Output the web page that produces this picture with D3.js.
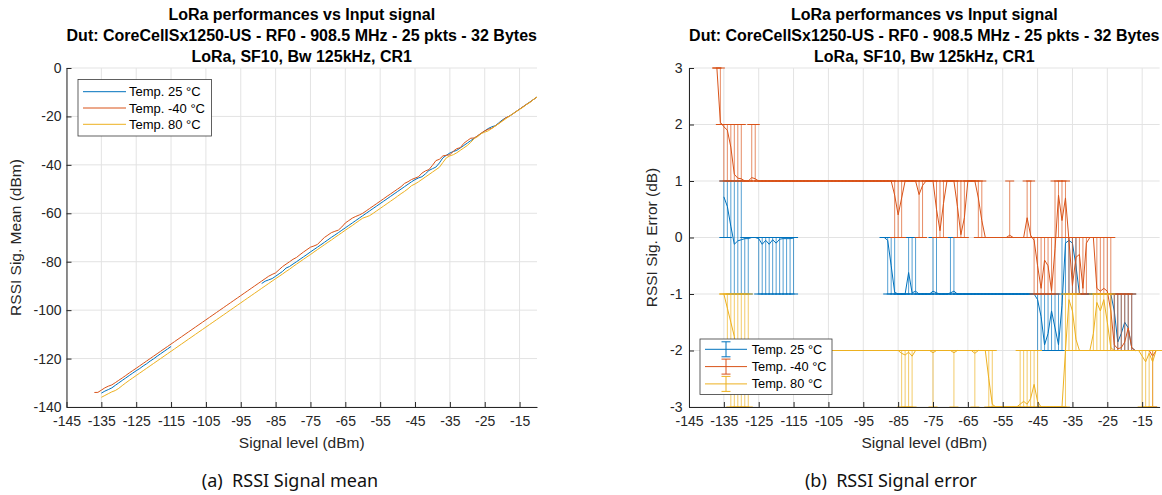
<!DOCTYPE html>
<html>
<head>
<meta charset="utf-8">
<script src="https://cdn.jsdelivr.net/npm/d3@7"></script>
<style>
  body { margin: 0; background: #fff; }
  text { font-family: "Liberation Sans", Arial, Helvetica, sans-serif; }
  .caption { font-family: "Noto Sans", "Open Sans", sans-serif; white-space: pre; }
</style>
</head>
<body>
<svg id="fig" width="1162" height="495"></svg>
<script>
// sweep of input levels (dBm), one step per dB
const levelsMinus40 = d3.range(-137, -9);
const levels25 = d3.range(-135, -9);
const levels80 = d3.range(-135, -9);

// RSSI error (dB) = measured RSSI mean - input level, read from plot (b)
// -40 °C : -137 .. -10
const errMinus40 = [
  3, 2.04, 1.96, 1.9, 1.6, 1.12, 1.05, 1.04, 1, 1,
  1.06, 1.04, 1, 1, 1, 1, 1, 1, 1, 1,
  1, 1, 1, 1, 1, 1, 1, 1, 1, 1,
  1, 1, 1, 1, 1, 1, 1, 1, 1, 1,
  1, 1, 1, 1, 1, 1, 1, 1, 1, 1,
  1, 0.75, 0.4, 0.7, 1, 1, 1, 1, 0.76, 0.92,
  1, 1, 1, 0.5, 0.12, 0.6, 1, 1, 1, 0.55,
  0.05, 0.35, 1, 1, 1, 0.7, 0.3, 0, 0, 0,
  0, 0, 0, 0, 0.04, 0, 0, 0, 0, 0.35,
  0.04, -0.05, -0.5, -0.9, -0.4, -0.5, -0.95, -0.2, 0.75, 0.3,
  0.7, -0.05, -0.85, -0.35, -0.3, -0.9, -0.1, 0, 0, -0.9,
  -0.95, -0.9, -0.95, -1.3, -1.9, -1.97, -1.95, -1.85, -1.6, -1.95,
  -2, -2, -2, -2, -2, -2.1, -2, -2
];
const errLoMinus40 = [
  3, 2, 1, 1, 1, 1, 1, 1, 1, 1,
  1, 1, 1, 1, 1, 1, 1, 1, 1, 1,
  1, 1, 1, 1, 1, 1, 1, 1, 1, 1,
  1, 1, 1, 1, 1, 1, 1, 1, 1, 1,
  1, 1, 1, 1, 1, 1, 1, 1, 1, 1,
  1, 0, 0, 0, 1, 1, 1, 1, 0, 0,
  1, 1, 1, 0, 0, 0, 1, 1, 1, 0,
  0, 0, 1, 1, 1, 0, 0, 0, 0, 0,
  0, 0, 0, 0, 0, 0, 0, 0, 0, 0,
  0, -1, -1, -1, -1, -1, -1, -1, 0, 0,
  0, -1, -1, -1, -1, -1, -1, 0, 0, -1,
  -1, -1, -1, -2, -2, -2, -2, -2, -2, -2,
  -2, -2, -2, -2, -2, -3, -2, -2
];
const errHiMinus40 = [
  3, 3, 2, 2, 2, 2, 2, 2, 1, 1,
  2, 2, 1, 1, 1, 1, 1, 1, 1, 1,
  1, 1, 1, 1, 1, 1, 1, 1, 1, 1,
  1, 1, 1, 1, 1, 1, 1, 1, 1, 1,
  1, 1, 1, 1, 1, 1, 1, 1, 1, 1,
  1, 1, 1, 1, 1, 1, 1, 1, 1, 1,
  1, 1, 1, 1, 1, 1, 1, 1, 1, 1,
  1, 1, 1, 1, 1, 1, 1, 0, 0, 0,
  0, 0, 0, 0, 1, 0, 0, 0, 0, 1,
  1, 0, 0, 0, 0, 0, 0, 1, 1, 1,
  1, 0, 0, 0, 0, 0, 0, 0, 0, 0,
  0, 0, 0, 0, -1, -1, -1, -1, -1, -1,
  -2, -2, -2, -2, -2, -2, -2, -2
];

// 25 °C : -135 .. -10 (no points between -114 and -90)
const err25 = [
  0.72, 0.55, 0.2, -0.12, -0.06, -0.04, -0.02, -0.02, 0, 0,
  -0.02, -0.12, -0.05, -0.12, -0.04, -0.1, -0.03, -0.02, -0.02, -0.02,
  -0.01, null, null, null, null, null, null, null, null, null,
  null, null, null, null, null, null, null, null, null, null,
  null, null, null, null, null, null, 0, -0.05, -0.5, -0.97,
  -1, -1, -1, -0.62, -0.98, -0.95, -1, -1, -1, -1,
  -0.95, -0.98, -1, -1, -1, -0.98, -0.95, -1, -1, -1,
  -1, -1, -1, -1, -1, -1, -1, -1, -1, -1,
  -1, -1, -1, -1, -1, -1, -1, -1, -1, -1,
  -1.1, -1.4, -1.9, -1.7, -1.3, -1.6, -1.9, -1.2, -0.1, -0.05,
  -0.1, -0.5, -1, -1, -1, -1, -1, -1, -1, -1,
  -1, -1, -1.3, -1.85, -1.7, -1.5, -1.6, -1.95, -2, -2,
  -2, -2, -2, -2, -2, -2
];
const errLo25 = [
  0, 0, -1, -1, -1, -1, -1, -1, 0, 0,
  -1, -1, -1, -1, -1, -1, -1, -1, -1, -1,
  -1, null, null, null, null, null, null, null, null, null,
  null, null, null, null, null, null, null, null, null, null,
  null, null, null, null, null, null, 0, -1, -1, -1,
  -1, -1, -1, -1, -1, -1, -1, -1, -1, -1,
  -1, -1, -1, -1, -1, -1, -1, -1, -1, -1,
  -1, -1, -1, -1, -1, -1, -1, -1, -1, -1,
  -1, -1, -1, -1, -1, -1, -1, -1, -1, -1,
  -2, -2, -2, -2, -2, -2, -2, -2, -1, -1,
  -1, -1, -1, -1, -1, -1, -1, -1, -1, -1,
  -1, -1, -2, -2, -2, -2, -2, -2, -2, -2,
  -2, -2, -2, -2, -2, -2
];
const errHi25 = [
  1, 1, 1, 1, 1, 1, 0, 0, 0, 0,
  0, 0, 0, 0, 0, 0, 0, 0, 0, 0,
  0, null, null, null, null, null, null, null, null, null,
  null, null, null, null, null, null, null, null, null, null,
  null, null, null, null, null, null, 0, 0, 0, 0,
  -1, -1, -1, 0, 0, 0, -1, -1, -1, -1,
  0, 0, -1, -1, -1, 0, 0, -1, -1, -1,
  -1, -1, -1, -1, -1, -1, -1, -1, -1, -1,
  -1, -1, -1, -1, -1, -1, -1, -1, -1, -1,
  -1, -1, -1, -1, -1, -1, -1, 0, 0, 0,
  0, 0, -1, -1, -1, -1, -1, -1, -1, -1,
  -1, -1, -1, -1, -1, -1, -1, -1, -2, -2,
  -2, -2, -2, -2, -2, -2
];

// 80 °C : -135 .. -10
const err80 = [
  -1, -1.25, -1.5, -1.75, -2.2, -2.3, -2.15, -2.05, -2, -2,
  -2, -2, -2, -2, -2, -2, -2, -2, -2, -2,
  -2, -2, -2, -2, -2, -2, -2, -2, -2, -2,
  -2, -2, -2, -2, -2, -2, -2, -2, -2, -2,
  -2, -2, -2, -2, -2, -2, -2, -2, -2, -2,
  -2, -2.05, -2.08, -2.03, -2.1, -2, -2, -2, -2, -2,
  -2.04, -2, -2, -2, -2, -2, -2.04, -2, -2, -2,
  -2, -2, -2.05, -2, -2, -2, -2.5, -2.95, -3, -3,
  -3, -3, -3, -3, -3, -2.95, -2.9, -2.95, -2.85, -2.6,
  -2.9, -3, -3, -3, -3, -3, -3, -3, -2, -1.1,
  -1.3, -1.8, -2, -2, -2, -2, -1.7, -1.15, -1.3, -1.1,
  -1.5, -1.95, -2, -2, -2, -2, -2, -2, -2, -2,
  -2.1, -2.2, -2.05, -2.2, -2, -2
];
const errLo80 = [
  -1, -2, -3, -3, -3, -3, -3, -3, -2, -2,
  -2, -2, -2, -2, -2, -2, -2, -2, -2, -2,
  -2, -2, -2, -2, -2, -2, -2, -2, -2, -2,
  -2, -2, -2, -2, -2, -2, -2, -2, -2, -2,
  -2, -2, -2, -2, -2, -2, -2, -2, -2, -2,
  -2, -3, -3, -3, -3, -2, -2, -2, -2, -2,
  -3, -2, -2, -2, -2, -2, -3, -2, -2, -2,
  -2, -2, -3, -2, -2, -2, -3, -3, -3, -3,
  -3, -3, -3, -3, -3, -3, -3, -3, -3, -3,
  -3, -3, -3, -3, -3, -3, -3, -3, -3, -2,
  -2, -2, -2, -2, -2, -2, -2, -2, -2, -2,
  -2, -2, -2, -2, -2, -2, -2, -2, -2, -2,
  -3, -3, -3, -3, -2, -2
];
const errHi80 = [
  -1, -1, -1, -1, -1, -1, -1, -1, -2, -2,
  -2, -2, -2, -2, -2, -2, -2, -2, -2, -2,
  -2, -2, -2, -2, -2, -2, -2, -2, -2, -2,
  -2, -2, -2, -2, -2, -2, -2, -2, -2, -2,
  -2, -2, -2, -2, -2, -2, -2, -2, -2, -2,
  -2, -2, -2, -2, -2, -2, -2, -2, -2, -2,
  -2, -2, -2, -2, -2, -2, -2, -2, -2, -2,
  -2, -2, -2, -2, -2, -2, -2, -2, -3, -3,
  -3, -3, -3, -3, -3, -2, -2, -2, -2, -2,
  -2, -3, -3, -3, -3, -3, -3, -3, -1, -1,
  -1, -1, -2, -2, -2, -2, -1, -1, -1, -1,
  -1, -1, -2, -2, -2, -2, -2, -2, -2, -2,
  -2, -2, -2, -2, -2, -2
];

const xTicks = [-145, -135, -125, -115, -105, -95, -85, -75, -65, -55, -45, -35, -25, -15];
const meanTicks = [-140, -120, -100, -80, -60, -40, -20, 0];
const errTicks = [-3, -2, -1, 0, 1, 2, 3];
const titleLines = [
  'LoRa performances vs Input signal',
  'Dut: CoreCellSx1250-US - RF0 - 908.5 MHz - 25 pkts - 32 Bytes',
  'LoRa, SF10, Bw 125kHz, CR1'
];

const series = [
  { name: 'Temp. 25 °C', color: '#0072BD', levels: levels25, err: err25, lo: errLo25, hi: errHi25 },
  { name: 'Temp. -40 °C', color: '#D95319', levels: levelsMinus40, err: errMinus40, lo: errLoMinus40, hi: errHiMinus40 },
  { name: 'Temp. 80 °C', color: '#EDB120', levels: levels80, err: err80, lo: errLo80, hi: errHi80 }
];
series.forEach(s => {
  s.points = s.levels.map((x, i) => ({ x: x, e: s.err[i], lo: s.lo[i], hi: s.hi[i] }));
});

const svg = d3.select('#fig');
svg.append('rect').attr('width', 1162).attr('height', 495).attr('fill', '#fff');

const axisColor = '#262626';
const gridColor = '#e3e3e3';

function drawFrame(x, y, yTicks, yPad) {
  const g = svg.append('g');
  const [y0, y1] = y.range();
  const [x0, x1] = x.range();
  // grid
  g.append('g').selectAll('line').data(xTicks).join('line')
    .attr('x1', d => x(d)).attr('x2', d => x(d))
    .attr('y1', y0).attr('y2', y1)
    .attr('stroke', gridColor).attr('stroke-width', 1);
  g.append('g').selectAll('line').data(yTicks).join('line')
    .attr('x1', x0).attr('x2', x1)
    .attr('y1', d => y(d)).attr('y2', d => y(d))
    .attr('stroke', gridColor).attr('stroke-width', 1);
  return g;
}

function drawAxes(x, y, yTicks, yPad) {
  const g = svg.append('g');
  const gx = g.append('g')
    .attr('transform', `translate(0,${y.range()[0]})`)
    .call(d3.axisBottom(x).tickValues(xTicks).tickSize(-5).tickSizeOuter(0)
      .tickPadding(9).tickFormat(d => String(d)));
  const gy = g.append('g')
    .attr('transform', `translate(${x.range()[0]},0)`)
    .call(d3.axisLeft(y).tickValues(yTicks).tickSize(-5).tickSizeOuter(0)
      .tickPadding(yPad).tickFormat(d => String(d)));
  [gx, gy].forEach(a => {
    a.attr('font-family', null).attr('font-size', null);
    a.select('.domain').attr('stroke', axisColor);
    a.selectAll('.tick line').attr('stroke', axisColor);
    a.selectAll('.tick text').attr('fill', axisColor).style('font-size', '14px');
  });
}

function drawTitle(cx) {
  titleLines.forEach((t, i) => {
    svg.append('text')
      .attr('x', cx).attr('y', 20 + i * 21)
      .attr('text-anchor', 'middle')
      .style('font-size', '16px').style('font-weight', 'bold')
      .attr('fill', '#000')
      .text(t);
  });
}

function drawLabels(cx, cy, xLab, yX, yLab) {
  svg.append('text')
    .attr('x', cx).attr('y', 447.5)
    .attr('text-anchor', 'middle').attr('fill', axisColor)
    .style('font-size', '15.5px')
    .text(xLab);
  svg.append('text')
    .attr('transform', `translate(${yX},${cy}) rotate(-90)`)
    .attr('text-anchor', 'middle').attr('fill', axisColor)
    .style('font-size', '15.5px')
    .text(yLab);
}

// ---------------- (a) RSSI signal mean ----------------
const xA = d3.scaleLinear().domain([-145, -10]).range([66.5, 537]);
const yA = d3.scaleLinear().domain([-140, 0]).range([407, 68]);

drawFrame(xA, yA, meanTicks);

const lineA = d3.line()
  .defined(d => d.e != null)
  .x(d => xA(d.x))
  .y(d => yA(d.x + d.e));

svg.append('g').selectAll('path').data(series).join('path')
  .attr('d', s => lineA(s.points))
  .attr('fill', 'none')
  .attr('stroke', s => s.color)
  .attr('stroke-width', 1);

drawAxes(xA, yA, meanTicks, 5);
drawTitle((66.5 + 537) / 2);
drawLabels((66.5 + 537) / 2, (68 + 407) / 2, 'Signal level (dBm)', 21, 'RSSI Sig. Mean (dBm)');

// legend (a)
const legA = svg.append('g');
legA.append('rect').attr('x', 78).attr('y', 79.5).attr('width', 133.5).attr('height', 56.5)
  .attr('fill', '#fff').attr('stroke', '#3a3a3a').attr('stroke-width', 0.8);
series.forEach((s, i) => {
  const ly = 91.7 + i * 16.3;
  legA.append('line').attr('x1', 83).attr('x2', 126).attr('y1', ly).attr('y2', ly)
    .attr('stroke', s.color).attr('stroke-width', 1);
  legA.append('text').attr('x', 129).attr('y', ly).attr('dy', '0.35em')
    .attr('fill', '#000').style('font-size', '13px').text(s.name);
});

// ---------------- (b) RSSI signal error ----------------
const xB = d3.scaleLinear().domain([-145, -10]).range([689, 1159.6]);
const yB = d3.scaleLinear().domain([-3, 3]).range([407, 68]);
const cap = 4.5;

drawFrame(xB, yB, errTicks);

const lineB = d3.line()
  .defined(d => d.e != null)
  .x(d => xB(d.x))
  .y(d => yB(d.e));

series.forEach(s => {
  const g = svg.append('g');
  const pts = s.points.filter(d => d.e != null);
  g.selectAll('line.bar').data(pts.filter(d => d.lo !== d.hi)).join('line')
    .attr('class', 'bar')
    .attr('x1', d => xB(d.x)).attr('x2', d => xB(d.x))
    .attr('y1', d => yB(d.lo)).attr('y2', d => yB(d.hi))
    .attr('stroke', s.color).attr('stroke-width', 0.9).attr('stroke-opacity', 0.75);
  g.selectAll('line.capLo').data(pts).join('line')
    .attr('class', 'capLo')
    .attr('x1', d => xB(d.x) - cap).attr('x2', d => xB(d.x) + cap)
    .attr('y1', d => yB(d.lo)).attr('y2', d => yB(d.lo))
    .attr('stroke', s.color).attr('stroke-width', 1);
  g.selectAll('line.capHi').data(pts).join('line')
    .attr('class', 'capHi')
    .attr('x1', d => xB(d.x) - cap).attr('x2', d => xB(d.x) + cap)
    .attr('y1', d => yB(d.hi)).attr('y2', d => yB(d.hi))
    .attr('stroke', s.color).attr('stroke-width', 1);
  g.append('path')
    .attr('d', lineB(s.points))
    .attr('fill', 'none')
    .attr('stroke', s.color)
    .attr('stroke-width', 1);
});

drawAxes(xB, yB, errTicks, 6.5);
drawTitle((689 + 1159.6) / 2);
drawLabels((689 + 1159.6) / 2, (68 + 407) / 2, 'Signal level (dBm)', 657, 'RSSI Sig. Error (dB)');

// legend (b)
const legB = svg.append('g');
legB.append('rect').attr('x', 700).attr('y', 339).attr('width', 132).attr('height', 55.5)
  .attr('fill', '#fff').attr('stroke', '#3a3a3a').attr('stroke-width', 0.8);
series.forEach((s, i) => {
  const ly = 349.3 + i * 17.3;
  legB.append('line').attr('x1', 705).attr('x2', 747).attr('y1', ly).attr('y2', ly)
    .attr('stroke', s.color).attr('stroke-width', 1);
  legB.append('line').attr('x1', 726).attr('x2', 726).attr('y1', ly - 7.5).attr('y2', ly + 7.5)
    .attr('stroke', s.color).attr('stroke-width', 1);
  [-7.5, 7.5].forEach(o => {
    legB.append('line').attr('x1', 726 - cap).attr('x2', 726 + cap)
      .attr('y1', ly + o).attr('y2', ly + o)
      .attr('stroke', s.color).attr('stroke-width', 1);
  });
  legB.append('text').attr('x', 751.7).attr('y', ly).attr('dy', '0.35em')
    .attr('fill', '#000').style('font-size', '12.8px').text(s.name);
});

// captions
svg.append('text').attr('class', 'caption')
  .attr('x', 290).attr('y', 487).attr('text-anchor', 'middle')
  .attr('fill', '#111').style('font-size', '18px')
  .text('(a)  RSSI Signal mean');
svg.append('text').attr('class', 'caption')
  .attr('x', 891).attr('y', 487).attr('text-anchor', 'middle')
  .attr('fill', '#111').style('font-size', '18px')
  .text('(b)  RSSI Signal error');
</script>
</body>
</html>
